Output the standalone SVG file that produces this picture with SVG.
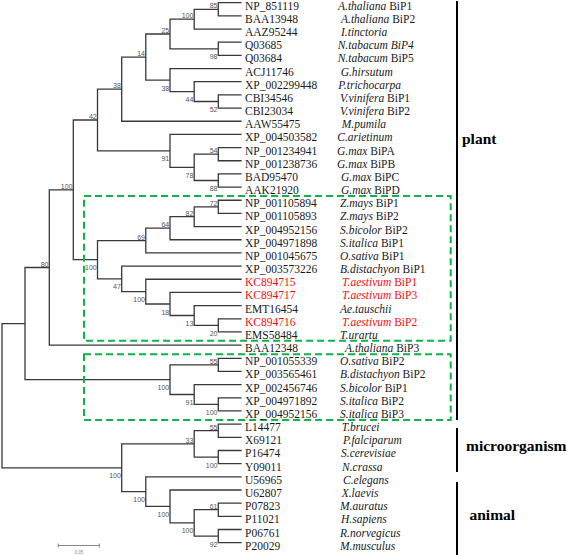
<svg xmlns="http://www.w3.org/2000/svg" width="567" height="555" viewBox="0 0 567 555">
<style>
.t{fill:none;stroke:#383838;stroke-width:1.3;stroke-linecap:square}
.a{font-family:"Liberation Serif","Times New Roman",serif;font-size:11.5px;fill:#1a1a1a}
.s{font-family:"Liberation Serif","Times New Roman",serif;font-size:11.5px;fill:#1a1a1a}
.i{font-style:italic}
.r{fill:#f01010}
.b{font-family:"Liberation Sans",Arial,sans-serif;font-size:7px;fill:#555;text-anchor:end}
.g{font-family:"Liberation Serif","Times New Roman",serif;font-weight:bold;font-size:15.5px;fill:#000}
.box{fill:none;stroke:#0db34b;stroke-width:2;stroke-dasharray:7 4}
.br{stroke:#000;stroke-width:2}
</style>
<rect width="567" height="555" fill="#fff"/>
<g id="connectors">
<path class="t" d="M218.3 2.7V15.87M218.3 2.7H241M218.3 15.87H241
M194.2 9.29V29.04M194.2 9.29H218.3M194.2 29.04H241
M218.3 42.21V55.38M218.3 42.21H241M218.3 55.38H241
M170 19.16V48.8M170 19.16H194.2M170 48.8H218.3
M218.3 94.89V108.06M218.3 94.89H241M218.3 108.06H241
M194.2 81.72V101.48M194.2 81.72H241M194.2 101.48H218.3
M170 68.55V91.6M170 68.55H241M170 91.6H194.2
M145.8 33.98V80.07M145.8 33.98H170M145.8 80.07H170
M121.7 57.03V121.23M121.7 57.03H145.8M121.7 121.23H241
M218.3 147.57V160.74M218.3 147.57H241M218.3 160.74H241
M218.3 173.91V187.08M218.3 173.91H241M218.3 187.08H241
M194.2 154.16V180.5M194.2 154.16H218.3M194.2 180.5H218.3
M170 134.4V167.33M170 134.4H241M170 167.33H194.2
M97.5 89.13V150.86M97.5 89.13H121.7M97.5 150.86H170
M218.3 200.25V213.42M218.3 200.25H241M218.3 213.42H241
M194.2 206.84V226.59M194.2 206.84H218.3M194.2 226.59H241
M170 216.7V239.76M170 216.7H194.2M170 239.76H241
M145.8 228.2V252.93M145.8 228.2H170M145.8 252.93H241
M218.3 318.78V331.95M218.3 318.78H241M218.3 331.95H241
M194.2 305.61V325.4M194.2 305.61H241M194.2 325.4H218.3
M170 292.44V315.5M170 292.44H241M170 315.5H194.2
M145.8 279.27V304M145.8 279.27H241M145.8 304H170
M121.7 266.1V291.6M121.7 266.1H241M121.7 291.6H145.8
M97.5 240.6V278.9M97.5 240.6H145.8M97.5 278.9H121.7
M73.3 120V259.7M73.3 120H97.5M73.3 259.7H97.5
M49.3 189.9V345.12M49.3 189.9H73.3M49.3 345.12H241
M218.3 358.29V371.46M218.3 358.29H241M218.3 371.46H241
M218.3 397.8V410.97M218.3 397.8H241M218.3 410.97H241
M194.2 384.63V404.4M194.2 384.63H241M194.2 404.4H218.3
M170 364.9V394.5M170 364.9H218.3M170 394.5H194.2
M25 267.5V379.7M25 267.5H49.3M25 379.7H170
M218.3 424.14V437.31M218.3 424.14H241M218.3 437.31H241
M218.3 450.48V463.65M218.3 450.48H241M218.3 463.65H241
M194.2 430.7V457.1M194.2 430.7H218.3M194.2 457.1H218.3
M218.3 503.16V516.33M218.3 503.16H241M218.3 516.33H241
M218.3 529.5V542.67M218.3 529.5H241M218.3 542.67H241
M194.2 509.7V536.1M194.2 509.7H218.3M194.2 536.1H218.3
M170 489.99V522.9M170 489.99H241M170 522.9H194.2
M145.8 476.82V506.4M145.8 476.82H241M145.8 506.4H170
M121.7 443.9V491.6M121.7 443.9H194.2M121.7 491.6H145.8
M2 323.6V467.8M2 323.6H25M2 467.8H121.7"/>
</g>
<g id="bootstrap">
<text class="b" x="217.5" y="8.3">85</text>
<text class="b" x="193.4" y="18.2">100</text>
<text class="b" x="217.5" y="59.3">98</text>
<text class="b" x="169.2" y="33">25</text>
<text class="b" x="217.5" y="112">52</text>
<text class="b" x="193.4" y="102.1">44</text>
<text class="b" x="169.2" y="90.6">38</text>
<text class="b" x="145" y="56">14</text>
<text class="b" x="120.9" y="88.1">38</text>
<text class="b" x="217.5" y="153.2">54</text>
<text class="b" x="217.5" y="191">88</text>
<text class="b" x="193.4" y="177.8">78</text>
<text class="b" x="169.2" y="161.4">91</text>
<text class="b" x="96.7" y="119">42</text>
<text class="b" x="217.5" y="205.8">72</text>
<text class="b" x="193.4" y="215.7">82</text>
<text class="b" x="169.2" y="227.2">64</text>
<text class="b" x="145" y="239.6">69</text>
<text class="b" x="217.5" y="335.9">20</text>
<text class="b" x="193.4" y="326">13</text>
<text class="b" x="169.2" y="314.5">18</text>
<text class="b" x="145" y="302.1">100</text>
<text class="b" x="120.9" y="289.4">47</text>
<text class="b" x="96.7" y="270.2">100</text>
<text class="b" x="72.5" y="188.9">100</text>
<text class="b" x="48.5" y="266.5">80</text>
<text class="b" x="217.5" y="363.9">55</text>
<text class="b" x="217.5" y="414.9">100</text>
<text class="b" x="193.4" y="405">91</text>
<text class="b" x="169.2" y="390.2">100</text>
<text class="b" x="217.5" y="429.7">55</text>
<text class="b" x="217.5" y="467.6">100</text>
<text class="b" x="193.4" y="442.9">33</text>
<text class="b" x="217.5" y="508.7">61</text>
<text class="b" x="217.5" y="546.6">92</text>
<text class="b" x="193.4" y="533.4">100</text>
<text class="b" x="169.2" y="516.9">100</text>
<text class="b" x="145" y="502.1">100</text>
<text class="b" x="120.9" y="478.3">100</text>
</g>
<g id="boxes">
<rect class="box" x="84" y="196" width="366.7" height="144.7"/>
<rect class="box" x="84" y="354.3" width="366.7" height="65.7"/>
</g>
<g id="leaves">
<g id="l0"><text class="a" x="245" y="9.7">NP_851119</text><text class="s" x="338" y="9.7"><tspan class="i">A.thaliana</tspan> BiP1</text></g>
<g id="l1"><text class="a" x="245" y="22.87">BAA13948</text><text class="s" x="341" y="22.87"><tspan class="i">A.thaliana</tspan> BiP2</text></g>
<g id="l2"><text class="a" x="245" y="36.04">AAZ95244</text><text class="s i" x="341" y="36.04">I.tinctoria</text></g>
<g id="l3"><text class="a" x="245" y="49.21">Q03685</text><text class="s i" x="337.7" y="49.21">N.tabacum BiP4</text></g>
<g id="l4"><text class="a" x="245" y="62.38">Q03684</text><text class="s" x="337.7" y="62.38"><tspan class="i">N.tabacum</tspan> BiP5</text></g>
<g id="l5"><text class="a" x="245" y="75.55">ACJ11746</text><text class="s i" x="340.7" y="75.55">G.hirsutum</text></g>
<g id="l6"><text class="a" x="245" y="88.72">XP_002299448</text><text class="s i" x="338.3" y="88.72">P.trichocarpa</text></g>
<g id="l7"><text class="a" x="245" y="101.89">CBI34546</text><text class="s" x="340" y="101.89"><tspan class="i">V.vinifera</tspan> BiP1</text></g>
<g id="l8"><text class="a" x="245" y="115.06">CBI23034</text><text class="s" x="340" y="115.06"><tspan class="i">V.vinifera</tspan> BiP2</text></g>
<g id="l9"><text class="a" x="245" y="128.23">AAW55475</text><text class="s i" x="341.7" y="128.23">M.pumila</text></g>
<g id="l10"><text class="a" x="245" y="141.4">XP_004503582</text><text class="s i" x="337.3" y="141.4">C.arietinum</text></g>
<g id="l11"><text class="a" x="245" y="154.57">NP_001234941</text><text class="s" x="337" y="154.57"><tspan class="i">G.max</tspan> BiPA</text></g>
<g id="l12"><text class="a" x="245" y="167.74">NP_001238736</text><text class="s" x="337" y="167.74"><tspan class="i">G.max</tspan> BiPB</text></g>
<g id="l13"><text class="a" x="245" y="180.91">BAD95470</text><text class="s" x="341" y="180.91"><tspan class="i">G.max</tspan> BiPC</text></g>
<g id="l14"><text class="a" x="245" y="194.08">AAK21920</text><text class="s" x="341" y="194.08"><tspan class="i">G.max</tspan> BiPD</text></g>
<g id="l15"><text class="a" x="245" y="207.25">NP_001105894</text><text class="s" x="340" y="207.25"><tspan class="i">Z.mays</tspan> BiP1</text></g>
<g id="l16"><text class="a" x="245" y="220.42">NP_001105893</text><text class="s" x="340" y="220.42"><tspan class="i">Z.mays</tspan> BiP2</text></g>
<g id="l17"><text class="a" x="245" y="233.59">XP_004952156</text><text class="s" x="340" y="233.59"><tspan class="i">S.bicolor</tspan> BiP2</text></g>
<g id="l18"><text class="a" x="245" y="246.76">XP_004971898</text><text class="s" x="340" y="246.76"><tspan class="i">S.italica</tspan> BiP1</text></g>
<g id="l19"><text class="a" x="245" y="259.93">NP_001045675</text><text class="s" x="340" y="259.93"><tspan class="i">O.sativa</tspan> BiP1</text></g>
<g id="l20"><text class="a" x="245" y="273.1">XP_003573226</text><text class="s" x="340" y="273.1"><tspan class="i">B.distachyon</tspan> BiP1</text></g>
<g id="l21"><text class="a r" x="245" y="286.27">KC894715</text><text class="s r" x="342" y="286.27"><tspan class="i">T.aestivum</tspan> BiP1</text></g>
<g id="l22"><text class="a r" x="245" y="299.44">KC894717</text><text class="s r" x="342" y="299.44"><tspan class="i">T.aestivum</tspan> BiP3</text></g>
<g id="l23"><text class="a" x="245" y="312.61">EMT16454</text><text class="s i" x="340" y="312.61">Ae.tauschii</text></g>
<g id="l24"><text class="a r" x="245" y="325.78">KC894716</text><text class="s r" x="342" y="325.78"><tspan class="i">T.aestivum</tspan> BiP2</text></g>
<g id="l25"><text class="a" x="245" y="338.95">EMS58484</text><text class="s i" x="340" y="338.95">T.urartu</text></g>
<g id="l26"><text class="a" x="245" y="352.12">BAA12348</text><text class="s" x="345" y="352.12"><tspan class="i">A.thaliana</tspan> BiP3</text></g>
<g id="l27"><text class="a" x="245" y="365.29">NP_001055339</text><text class="s" x="340" y="365.29"><tspan class="i">O.sativa</tspan> BiP2</text></g>
<g id="l28"><text class="a" x="245" y="378.46">XP_003565461</text><text class="s" x="340" y="378.46"><tspan class="i">B.distachyon</tspan> BiP2</text></g>
<g id="l29"><text class="a" x="245" y="391.63">XP_002456746</text><text class="s" x="340" y="391.63"><tspan class="i">S.bicolor</tspan> BiP1</text></g>
<g id="l30"><text class="a" x="245" y="404.8">XP_004971892</text><text class="s" x="340" y="404.8"><tspan class="i">S.italica</tspan> BiP2</text></g>
<g id="l31"><text class="a" x="245" y="417.97">XP_004952156</text><text class="s" x="340" y="417.97"><tspan class="i">S.italica</tspan> BiP3</text></g>
<g id="l32"><text class="a" x="245" y="431.14">L14477</text><text class="s i" x="341.7" y="431.14">T.brucei</text></g>
<g id="l33"><text class="a" x="245" y="444.31">X69121</text><text class="s i" x="343" y="444.31">P.falciparum</text></g>
<g id="l34"><text class="a" x="245" y="457.48">P16474</text><text class="s i" x="341" y="457.48">S.cerevisiae</text></g>
<g id="l35"><text class="a" x="245" y="470.65">Y09011</text><text class="s i" x="342" y="470.65">N.crassa</text></g>
<g id="l36"><text class="a" x="245" y="483.82">U56965</text><text class="s i" x="343" y="483.82">C.elegans</text></g>
<g id="l37"><text class="a" x="245" y="496.99">U62807</text><text class="s i" x="341.7" y="496.99">X.laevis</text></g>
<g id="l38"><text class="a" x="245" y="510.16">P07823</text><text class="s i" x="340" y="510.16">M.auratus</text></g>
<g id="l39"><text class="a" x="245" y="523.33">P11021</text><text class="s i" x="341" y="523.33">H.sapiens</text></g>
<g id="l40"><text class="a" x="245" y="536.5">P06761</text><text class="s i" x="340" y="536.5">R.norvegicus</text></g>
<g id="l41"><text class="a" x="245" y="549.67">P20029</text><text class="s i" x="340" y="549.67">M.musculus</text></g>
</g>
<g id="groups">
<line class="br" x1="457" y1="1" x2="457" y2="420"/>
<line class="br" x1="457" y1="428" x2="457" y2="472"/>
<line class="br" x1="457" y1="482" x2="457" y2="555"/>
<text class="g" x="462" y="144">plant</text>
<text class="g" x="466" y="450.5">microorganism</text>
<text class="g" x="469.5" y="519.5">animal</text>
</g>
<g id="scale">
<path d="M58.3 545.5H99.3M58.3 543.5V547.5M99.3 543.5V547.5" fill="none" stroke="#666" stroke-width="0.8"/>
<text x="78.8" y="553.5" text-anchor="middle" font-family="Liberation Sans,Arial,sans-serif" font-size="4.5" fill="#888">0.05</text>
</g>
</svg>
